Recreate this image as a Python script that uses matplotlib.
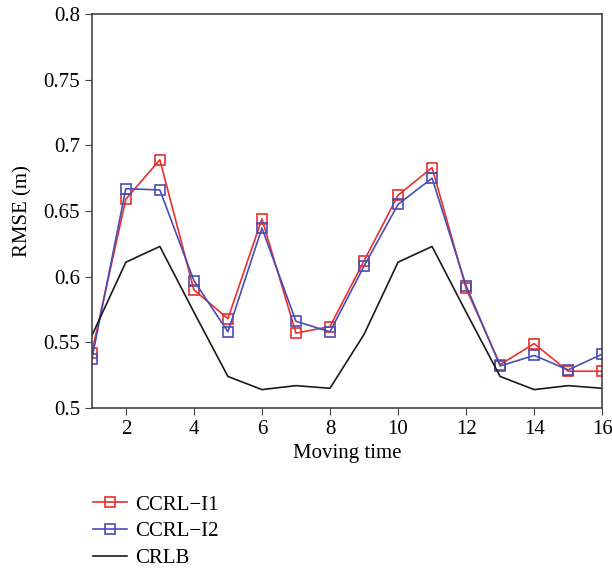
import matplotlib.pyplot as plt
import numpy as np

plt.rcParams['font.family'] = ['Liberation Serif', 'DejaVu Serif']

t = np.arange(1, 17)
ccrl_i1 = [0.542, 0.659, 0.689, 0.590, 0.568, 0.644, 0.557, 0.562,
           0.612, 0.662, 0.683, 0.591, 0.533, 0.549, 0.528, 0.528]
ccrl_i2 = [0.537, 0.667, 0.666, 0.597, 0.558, 0.637, 0.566, 0.558,
           0.608, 0.655, 0.675, 0.593, 0.532, 0.540, 0.529, 0.541]
crlb = [0.555, 0.611, 0.623, 0.573, 0.524, 0.514, 0.517, 0.515,
        0.556, 0.611, 0.623, 0.573, 0.524, 0.514, 0.517, 0.515]

fig = plt.figure(figsize=(6.12, 5.71), dpi=100)
ax = fig.add_axes([0.150, 0.2855, 0.834, 0.69])

ax.plot(t, ccrl_i1, color='#e8302c', lw=1.2, marker='s', ms=7,
        mfc='none', mec='#e8302c', mew=1.2, label='CCRL\u2212I1')
ax.plot(t, ccrl_i2, color='#4a4db3', lw=1.2, marker='s', ms=7,
        mfc='none', mec='#4a4db3', mew=1.2, label='CCRL\u2212I2')
ax.plot(t, crlb, color='#1a1a1a', lw=1.2, label='CRLB')

ax.set_xlim(1, 16)
ax.set_ylim(0.5, 0.8)
ax.set_xticks(np.arange(2, 17, 2))
ax.set_yticks([0.5, 0.55, 0.6, 0.65, 0.7, 0.75, 0.8])
ax.set_yticklabels(['0.5', '0.55', '0.6', '0.65', '0.7', '0.75', '0.8'])
ax.tick_params(direction='out', length=5, labelsize=15, color='#444444')
for s in ax.spines.values():
    s.set_color('#444444')
    s.set_linewidth(1.2)
ax.set_xlabel('Moving time', fontsize=15, labelpad=4)
ax.set_ylabel('RMSE (m)', fontsize=15, labelpad=8)

fig.legend(loc='upper left', bbox_to_anchor=(0.121, 0.166), frameon=False,
           fontsize=15, handlelength=1.65, handletextpad=0.4,
           labelspacing=0.35)

fig.savefig('out.png', dpi=100)
